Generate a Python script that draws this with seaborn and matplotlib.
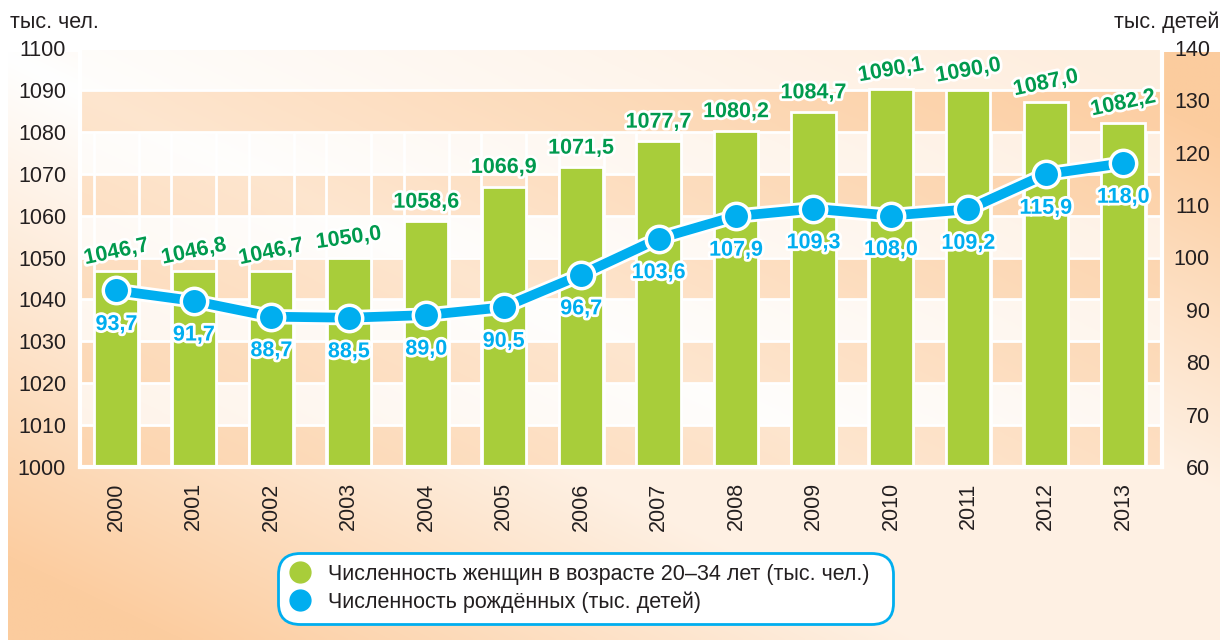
import numpy as np
import pandas as pd
import matplotlib
matplotlib.use("Agg")
import matplotlib.pyplot as plt
import matplotlib.patheffects as pe
from matplotlib.lines import Line2D
import seaborn as sns

# data
years = ["2000", "2001", "2002", "2003", "2004", "2005", "2006",
         "2007", "2008", "2009", "2010", "2011", "2012", "2013"]
women = [1046.7, 1046.8, 1046.7, 1050.0, 1058.6, 1066.9, 1071.5,
         1077.7, 1080.2, 1084.7, 1090.1, 1090.0, 1087.0, 1082.2]
births = [93.7, 91.7, 88.7, 88.5, 89.0, 90.5, 96.7,
          103.6, 107.9, 109.3, 108.0, 109.2, 115.9, 118.0]
left_ticks = list(range(1000, 1101, 10))
right_ticks = list(range(60, 141, 10))
legend_labels = ["Численность женщин в возрасте 20–34 лет (тыс. чел.)",
                 "Численность рождённых (тыс. детей)"]

# styles
label_rot = [12, 12, 12, 8, 0, 0, 0, 0, 0, 0, 10, 10, 12, 12]
GREEN = "#A8CD3A"
DGREEN = "#009A4E"
BLUE = "#00AEEF"
TXT = "#231F20"
PEACH = np.array([0.988, 0.80, 0.62])
WHITE = np.array([1.0, 1.0, 1.0])
FS = 15.5

sns.set_style("white")
plt.rcParams["font.family"] = ["Liberation Sans", "DejaVu Sans"]

df = pd.DataFrame({"year": years, "women": women, "births": births})
df["pos"] = np.arange(len(df))

W, H = 1223, 640
fig = plt.figure(figsize=(W / 100, H / 100), dpi=100)


def shade(px, py):
    u = px / W
    v = (py - 52) / 588.0
    return np.clip(1.15 * np.abs(u - v), 0, 1)


# page background gradient
bg = fig.add_axes([0, 0, 1, 1])
bg.set_xlim(0, W)
bg.set_ylim(H, 0)
bg.axis("off")
gx, gy = np.meshgrid(np.linspace(8, 1220, 300), np.linspace(52, 640, 200))
t = shade(gx, gy)
t = np.where(gy > 470, np.maximum(t, 0.28), t)[..., None]
bg.imshow(WHITE * (1 - t) + PEACH * t, extent=(8, 1220, 640, 52),
          aspect="auto", interpolation="bilinear")

# main axes
x0, x1, ytop, ybot = 80, 1162, 48, 467
ax = fig.add_axes([x0 / W, 1 - ybot / H, (x1 - x0) / W, (ybot - ytop) / H])
ax.set_zorder(1)
xlo, xhi = -0.47, 13.5

# plot-area banded pattern
nx, ny = 500, 400
xs = np.linspace(xlo, xhi, nx)
ys = np.linspace(1100, 1000, ny)
XX, YY = np.meshgrid(xs, ys)
px = x0 + (XX - xlo) / (xhi - xlo) * (x1 - x0)
py = ybot - (YY - 1000) / 100 * (ybot - ytop)
tt = shade(px, py)
dark = (np.floor((YY - 1000) / 10).astype(int) % 2) == 0
amt = np.where(dark, 0.5 + 0.45 * tt, 0.03 + 0.3 * tt)[..., None]
ax.imshow(WHITE * (1 - amt) + PEACH * amt, extent=(xlo, xhi, 1000, 1100),
          aspect="auto", interpolation="nearest", zorder=0)
for yv in left_ticks[1:-1]:
    ax.axhline(yv, color="white", lw=2, zorder=1)
for p in df["pos"]:
    ax.vlines([p - 0.29, p + 0.29], 1000, 1080, color="white", lw=2, zorder=1)

sns.barplot(data=df, x="year", y="women", color=GREEN, saturation=1,
            width=0.57, edgecolor="white", linewidth=2, errorbar=None,
            ax=ax, zorder=2)

for p, v, r in zip(df["pos"], women, label_rot):
    ax.text(p, v + 4.6, f"{v:.1f}".replace(".", ","), ha="center", va="center",
            rotation=r, fontsize=15.5, fontweight="bold", color=DGREEN, zorder=5,
            path_effects=[pe.withStroke(linewidth=4, foreground="white")])

ax.set_ylim(1000, 1100)
ax.set_xlim(xlo, xhi)
ax.set_yticks(left_ticks)
ax.set_xlabel("")
ax.set_ylabel("")
ax.tick_params(axis="y", length=0, pad=10, labelsize=FS, labelcolor=TXT)
ax.tick_params(axis="x", length=0, pad=11, labelsize=FS, labelcolor=TXT,
               labelrotation=90)
for s in ax.spines.values():
    s.set_color("white")
    s.set_linewidth(3)

# births line on right axis
ax2 = ax.twinx()
ax2.set_zorder(2)
ax2.patch.set_visible(False)
sns.lineplot(data=df, x="pos", y="births", color="white", linewidth=11,
             ax=ax2)
sns.lineplot(data=df, x="pos", y="births", color=BLUE, linewidth=7,
             marker="o", markersize=19, markeredgecolor="white",
             markeredgewidth=2.5, ax=ax2)
for p, v in zip(df["pos"], births):
    ax2.text(p, v - 6.5, f"{v:.1f}".replace(".", ","), ha="center",
             va="center", fontsize=15.5, fontweight="bold", color=BLUE,
             path_effects=[pe.withStroke(linewidth=4, foreground="white")])
ax2.set_ylim(60, 140)
ax2.set_xlim(xlo, xhi)
ax2.set_yticks(right_ticks)
ax2.set_ylabel("")
ax2.set_xlabel("")
ax2.tick_params(axis="y", length=0, pad=34.5, labelsize=FS, labelcolor=TXT)
for lbl in ax2.get_yticklabels():
    lbl.set_ha("right")
for s in ax2.spines.values():
    s.set_visible(False)

# unit captions
fig.text(10 / W, 1 - 22 / H, "тыс. чел.", fontsize=FS, color=TXT, va="center")
fig.text(1219 / W, 1 - 22 / H, "тыс. детей", fontsize=FS, color=TXT,
         va="center", ha="right")

# legend
handles = [Line2D([], [], marker="o", linestyle="none", markersize=15,
                  markerfacecolor=c, markeredgecolor=c) for c in (GREEN, BLUE)]
leg = fig.legend(handles, legend_labels, loc="center",
                 bbox_to_anchor=(278 / W, 12 / H, 615 / W, 79 / H),
                 mode="expand", borderaxespad=0, fontsize=FS,
                 labelspacing=0.3, handletextpad=0.8, handlelength=1.0,
                 borderpad=0.52, frameon=True, framealpha=1, labelcolor=TXT)
frame = leg.get_frame()
frame.set_edgecolor(BLUE)
frame.set_linewidth(2)
frame.set_facecolor("white")
frame.set_boxstyle("round", pad=0, rounding_size=1.0)

fig.savefig("out.png", dpi=100)
